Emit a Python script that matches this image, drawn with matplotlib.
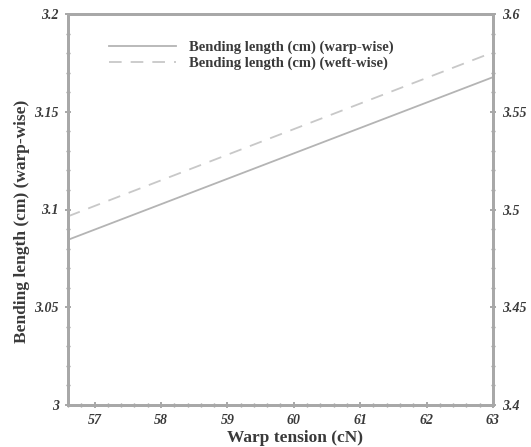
import matplotlib
matplotlib.use("Agg")
import matplotlib.pyplot as plt
from matplotlib.ticker import MultipleLocator, FixedLocator

tension = [56.6, 57, 58, 59, 60, 61, 62, 63]
warp_bl = [3.0845, 3.0897, 3.1027, 3.1157, 3.1287, 3.1417, 3.1547, 3.1677]
weft_bl = [3.4965, 3.5018, 3.5149, 3.5280, 3.5411, 3.5542, 3.5673, 3.5804]

xticks = [57, 58, 59, 60, 61, 62, 63]
yticks_left = [3.0, 3.05, 3.1, 3.15, 3.2]
yticks_right = [3.4, 3.45, 3.5, 3.55, 3.6]
left_labels = ["3", "3.05", "3.1", "3.15", "3.2"]
right_labels = ["3.4", "3.45", "3.5", "3.55", "3.6"]

plt.rcParams['font.family'] = ['Liberation Serif', 'DejaVu Serif']
spine_c = '#a8a8a8'
line_c = '#b4b4b4'
text_c = '#3a3a3a'

fig = plt.figure(figsize=(5.31, 4.47), dpi=100)
ax = fig.add_axes([68/531, 1-405/447, (493-68)/531, (405-14)/447])
ax2 = ax.twinx()

l1, = ax.plot(tension, warp_bl, color=line_c, lw=1.3, ls='-')
l2, = ax2.plot(tension, weft_bl, color='#c8c8c8', lw=1.3, ls=(0, (7, 5)))

ax.set_xlim(56.6, 63)
ax.set_ylim(3.0, 3.2)
ax2.set_ylim(3.4, 3.6)

ax.xaxis.set_major_locator(FixedLocator(xticks))
ax.xaxis.set_minor_locator(MultipleLocator(0.2))
ax.yaxis.set_major_locator(FixedLocator(yticks_left))
ax.yaxis.set_minor_locator(MultipleLocator(0.01))
ax2.yaxis.set_major_locator(FixedLocator(yticks_right))
ax2.yaxis.set_minor_locator(MultipleLocator(0.01))

tick_font = dict(fontsize=10, fontweight='bold', fontstyle='italic', color=text_c)
ax.set_xticklabels([str(t) for t in xticks], **tick_font)
ax.set_yticklabels(left_labels, **tick_font)
ax2.set_yticklabels(right_labels, **tick_font)

for a in (ax, ax2):
    for s in a.spines.values():
        s.set_color(spine_c)
        s.set_linewidth(2)
    a.tick_params(which='major', direction='inout', length=5, width=1.2, color='#999999', pad=4)
    a.tick_params(which='minor', direction='inout', length=3, width=1, color='#999999')

ax.set_xlabel('Warp tension (cN)', fontsize=12.5, fontweight='bold', color=text_c, labelpad=6)
ax.xaxis.set_label_coords(0.535, -0.065)
ax.set_ylabel('Bending length (cm) (warp-wise)', fontsize=12.5, fontweight='bold', color=text_c)
ax.yaxis.set_label_coords(-0.09, 0.47)

leg = ax.legend([l1, l2], ['Bending length (cm) (warp-wise)', 'Bending length (cm) (weft-wise)'],
                loc='upper left', bbox_to_anchor=(0.065, 0.965), frameon=False,
                prop=dict(family='Liberation Serif', weight='bold', size=10.5),
                handlelength=4.6, handletextpad=0.9, labelspacing=0.15)
for t in leg.get_texts():
    t.set_color(text_c)

fig.savefig('out.png', dpi=100)
